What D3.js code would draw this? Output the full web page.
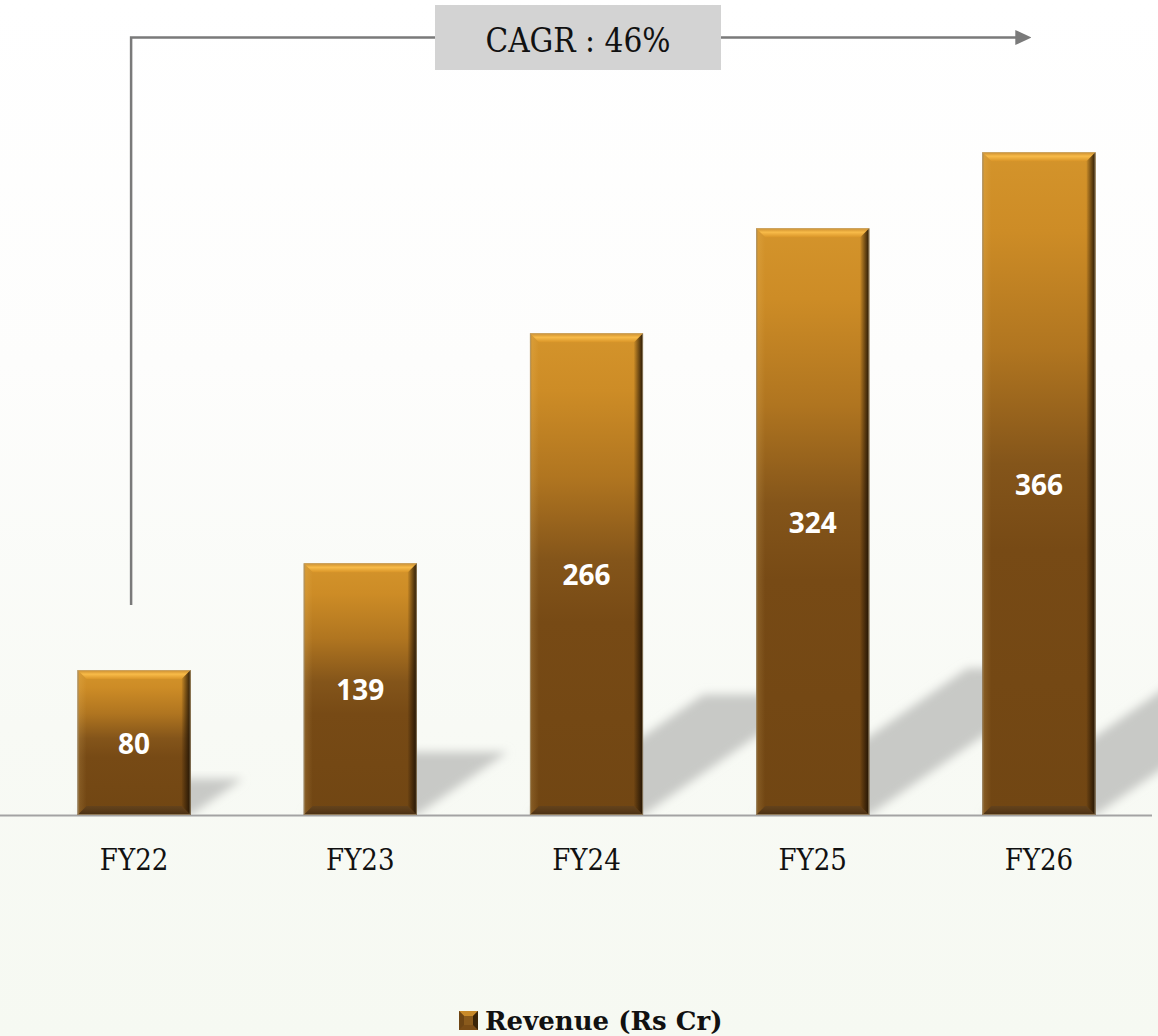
<!DOCTYPE html>
<html>
<head>
<meta charset="utf-8">
<script src="https://cdn.jsdelivr.net/npm/d3@7"></script>
<style>
  html, body { margin: 0; padding: 0; background: #ffffff; }
  svg { display: block; }
</style>
</head>
<body>
<script>
// Revenue by fiscal year (Rs Cr)
const categories = ["FY22", "FY23", "FY24", "FY25", "FY26"];
const revenue = [80, 139, 266, 324, 366];
const seriesName = "Revenue (Rs Cr)";
const cagrLabel = "CAGR : 46%";

const W = 1158, H = 1036;
const baseY = 815;

const svg = d3.select("body").append("svg")
  .attr("width", W).attr("height", H);

const defs = svg.append("defs");

// page background: white fading to a pale green-grey
const bg = defs.append("linearGradient").attr("id", "bg")
  .attr("x1", 0).attr("y1", 0).attr("x2", 0).attr("y2", 1);
bg.append("stop").attr("offset", 0).attr("stop-color", "#ffffff");
bg.append("stop").attr("offset", 0.35).attr("stop-color", "#fdfdfc");
bg.append("stop").attr("offset", 0.7).attr("stop-color", "#f8faf5");
bg.append("stop").attr("offset", 1).attr("stop-color", "#f6f9f2");
svg.append("rect").attr("width", W).attr("height", H).attr("fill", "url(#bg)");

// bar body: golden top turning to brown
const body = defs.append("linearGradient").attr("id", "barBody")
  .attr("x1", 0).attr("y1", 0).attr("x2", 0).attr("y2", 1);
[[0, "#d4942b"], [0.12, "#cd8c26"], [0.3, "#b07520"], [0.47, "#84551a"], [0.6, "#774a15"], [1, "#714613"]]
  .forEach(([o, c]) => body.append("stop").attr("offset", o).attr("stop-color", c));

const topBevel = defs.append("linearGradient").attr("id", "bevTop")
  .attr("x1", 0).attr("y1", 0).attr("x2", 0).attr("y2", 1);
[[0, "#c98a2a"], [0.45, "#f8bb49"], [1, "#d99528"]]
  .forEach(([o, c]) => topBevel.append("stop").attr("offset", o).attr("stop-color", c));

const rightBevel = defs.append("linearGradient").attr("id", "bevRight")
  .attr("x1", 0).attr("y1", 0).attr("x2", 1).attr("y2", 0);
rightBevel.append("stop").attr("offset", 0).attr("stop-color", "#1e1103").attr("stop-opacity", 0.05);
rightBevel.append("stop").attr("offset", 0.6).attr("stop-color", "#1e1103").attr("stop-opacity", 0.6);
rightBevel.append("stop").attr("offset", 1).attr("stop-color", "#1e1103").attr("stop-opacity", 0.95);

const leftBevel = defs.append("linearGradient").attr("id", "bevLeft")
  .attr("x1", 0).attr("y1", 0).attr("x2", 1).attr("y2", 0);
leftBevel.append("stop").attr("offset", 0).attr("stop-color", "#3a2406").attr("stop-opacity", 0.55);
leftBevel.append("stop").attr("offset", 0.25).attr("stop-color", "#ffd98a").attr("stop-opacity", 0.12);
leftBevel.append("stop").attr("offset", 1).attr("stop-color", "#ffd98a").attr("stop-opacity", 0);

const bottomBevel = defs.append("linearGradient").attr("id", "bevBottom")
  .attr("x1", 0).attr("y1", 0).attr("x2", 0).attr("y2", 1);
bottomBevel.append("stop").attr("offset", 0).attr("stop-color", "#4a3a2a").attr("stop-opacity", 0.35);
bottomBevel.append("stop").attr("offset", 1).attr("stop-color", "#2e2012").attr("stop-opacity", 0.6);

const blur = defs.append("filter").attr("id", "shadowBlur")
  .attr("x", "-20%").attr("y", "-20%").attr("width", "140%").attr("height", "140%");
blur.append("feGaussianBlur").attr("stdDeviation", 5);

defs.append("clipPath").attr("id", "aboveAxis")
  .append("rect").attr("x", 0).attr("y", 0).attr("width", W).attr("height", baseY - 1);

// scales
const x = d3.scaleBand().domain(categories).range([21, 1152])
  .paddingInner(0.5).paddingOuter(0.25);
const y = d3.scaleLinear().domain([0, 450]).range([baseY, 0]);

const data = categories.map((c, i) => ({ cat: c, value: revenue[i] }));

// floor shadows cast up and to the right of each bar
svg.append("g").attr("clip-path", "url(#aboveAxis)")
  .selectAll("polygon").data(data).join("polygon")
  .attr("points", d => {
    const x0 = x(d.cat), x1 = x0 + x.bandwidth();
    const h = baseY - y(d.value);
    const dx = 0.36 * h, dy = 0.25 * h;
    return [[x0, baseY], [x1, baseY], [x1 + dx, baseY - dy], [x0 + dx, baseY - dy]].join(" ");
  })
  .attr("fill", "#c8c9c6")
  .attr("filter", "url(#shadowBlur)");

// axis baseline
svg.append("line")
  .attr("x1", 0).attr("x2", 1152).attr("y1", baseY + 0.5).attr("y2", baseY + 0.5)
  .attr("stroke", "#a3a3a3").attr("stroke-width", 2);

// bevelled bars
const bev = 9;
const bars = svg.append("g").selectAll("g").data(data).join("g");
bars.each(function (d) {
  const g = d3.select(this);
  const x0 = x(d.cat), x1 = x0 + x.bandwidth();
  const y0 = y(d.value), y1 = y(0);
  g.append("rect").attr("x", x0).attr("y", y0)
    .attr("width", x1 - x0).attr("height", y1 - y0).attr("fill", "url(#barBody)");
  g.append("polygon")
    .attr("points", [[x0, y0], [x1, y0], [x1 - bev, y0 + bev], [x0 + bev, y0 + bev]].join(" "))
    .attr("fill", "url(#bevTop)");
  g.append("polygon")
    .attr("points", [[x1, y0], [x1, y1], [x1 - bev, y1 - bev], [x1 - bev, y0 + bev]].join(" "))
    .attr("fill", "url(#bevRight)");
  g.append("polygon")
    .attr("points", [[x0, y0], [x0 + bev, y0 + bev], [x0 + bev, y1 - bev], [x0, y1]].join(" "))
    .attr("fill", "url(#bevLeft)");
  g.append("polygon")
    .attr("points", [[x0, y1], [x0 + bev, y1 - bev], [x1 - bev, y1 - bev], [x1, y1]].join(" "))
    .attr("fill", "url(#bevBottom)");
  g.append("rect").attr("x", x0 + 0.5).attr("y", y0 + 0.5)
    .attr("width", x1 - x0 - 1).attr("height", y1 - y0 - 1)
    .attr("fill", "none").attr("stroke", "#c8b694").attr("stroke-opacity", 0.55).attr("stroke-width", 1);
});

// value labels inside the bars
svg.append("g").selectAll("text").data(data).join("text")
  .attr("x", d => x(d.cat) + x.bandwidth() / 2)
  .attr("y", d => (y(d.value) + y(0)) / 2)
  .attr("text-anchor", "middle")
  .attr("dominant-baseline", "central")
  .attr("font-family", "'Open Sans', 'DejaVu Sans', sans-serif")
  .attr("font-weight", 700)
  .attr("font-size", 28)
  .attr("fill", "#ffffff")
  .text(d => d.value);

// category axis labels
const xAxis = d3.axisBottom(x).tickSize(0).tickPadding(0);
const axG = svg.append("g").attr("transform", `translate(0,${baseY})`).call(xAxis);
axG.select(".domain").remove();
axG.selectAll("text")
  .attr("dy", null)
  .attr("y", 55)
  .attr("fill", "#111111")
  .style("font-family", "'DejaVu Serif Condensed', 'DejaVu Serif', serif")
  .style("font-stretch", "condensed")
  .style("font-size", "29px");

// CAGR bracket with arrow
defs.append("marker").attr("id", "arrow")
  .attr("viewBox", "0 0 10 10").attr("refX", 1).attr("refY", 5)
  .attr("markerUnits", "userSpaceOnUse")
  .attr("markerWidth", 16).attr("markerHeight", 16).attr("orient", "auto")
  .append("path").attr("d", "M0,0.3 L10,5 L0,9.7 Z").attr("fill", "#7a7a7a");

const bx0 = x(categories[0]) + x.bandwidth() / 2 - 3;
const bx1 = x(categories[categories.length - 1]) + x.bandwidth() / 2 - 22;
const by = 37.5;
svg.append("path")
  .attr("d", `M${bx0},605 L${bx0},${by} L${bx1},${by}`)
  .attr("fill", "none").attr("stroke", "#7a7a7a").attr("stroke-width", 2.5)
  .attr("marker-end", "url(#arrow)");

svg.append("rect").attr("x", 435).attr("y", 5).attr("width", 286).attr("height", 65)
  .attr("fill", "#d3d3d3");
svg.append("text").attr("x", 578).attr("y", 52)
  .attr("text-anchor", "middle")
  .attr("font-family", "'DejaVu Serif Condensed', 'DejaVu Serif', serif")
  .style("font-stretch", "condensed")
  .attr("font-size", 33)
  .attr("fill", "#111111")
  .text(cagrLabel);

// legend
const lg = svg.append("g").attr("transform", "translate(459,1011)");
const ls = 19, lb = 5;
lg.append("rect").attr("width", ls).attr("height", ls).attr("fill", "#7a4c16");
lg.append("polygon").attr("points", [[0, 0], [ls, 0], [ls / 2, ls / 2]].join(" ")).attr("fill", "#c88a2a");
lg.append("polygon").attr("points", [[ls, 0], [ls, ls], [ls / 2, ls / 2]].join(" ")).attr("fill", "#3a2408");
lg.append("polygon").attr("points", [[0, 0], [0, ls], [ls / 2, ls / 2]].join(" ")).attr("fill", "#6e4514");
lg.append("rect").attr("x", lb).attr("y", lb).attr("width", ls - 2 * lb).attr("height", ls - 2 * lb).attr("fill", "#8a5a1c");
lg.append("text").attr("x", 26).attr("y", 19)
  .attr("font-family", "'DejaVu Serif', serif")
  .attr("font-weight", 700)
  .attr("font-size", 26)
  .attr("fill", "#111111")
  .text(seriesName);
</script>
</body>
</html>
